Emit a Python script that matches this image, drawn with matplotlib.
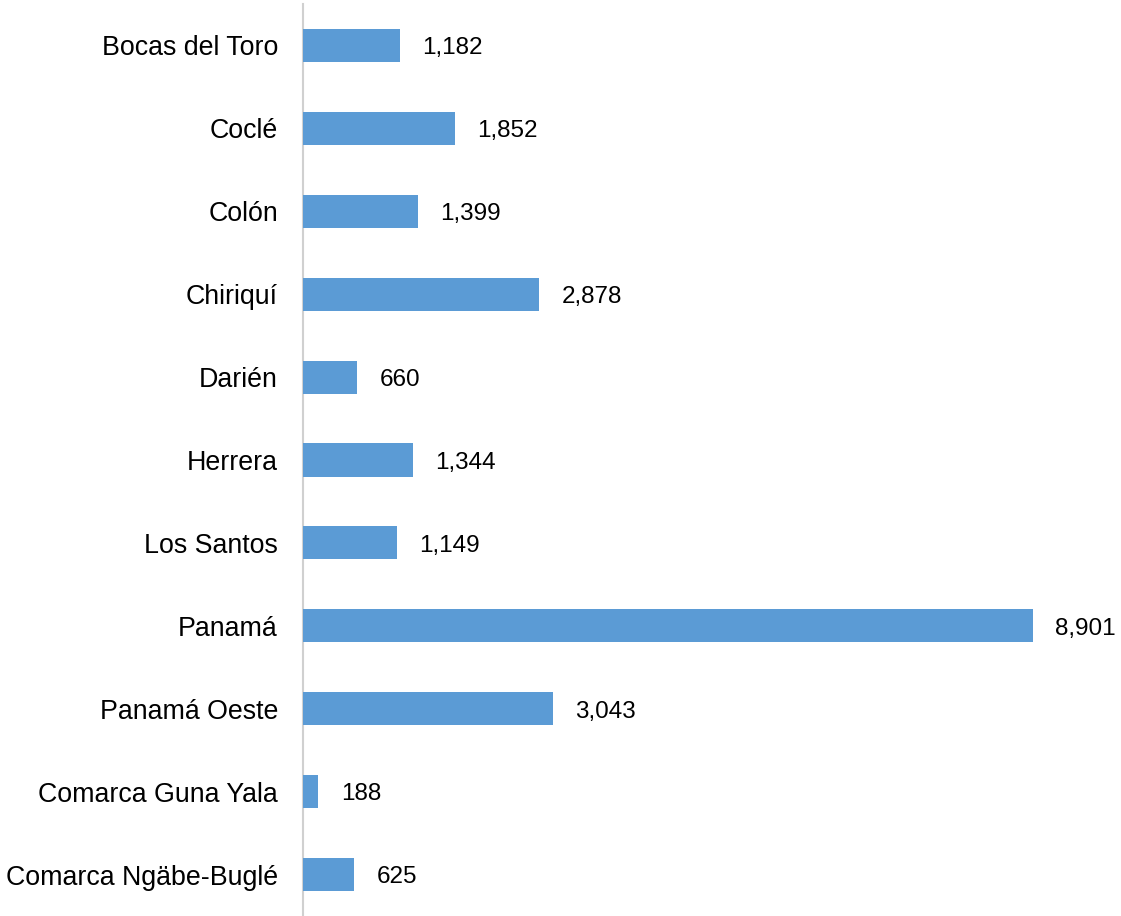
import matplotlib.pyplot as plt

plt.rcParams['font.family'] = ['Liberation Sans', 'DejaVu Sans']

provinces = ['Bocas del Toro', 'Coclé', 'Colón', 'Chiriquí', 'Darién', 'Herrera',
             'Los Santos', 'Panamá', 'Panamá Oeste', 'Comarca Guna Yala',
             'Comarca Ngäbe-Buglé']
values = [1182, 1852, 1399, 2878, 660, 1344, 1149, 8901, 3043, 188, 625]

C_BAR = '#5b9bd5'
C_AXIS = '#d0d0d0'

fig = plt.figure(figsize=(11.21, 9.16), dpi=100)
fig.patch.set_facecolor('white')
ax = fig.add_axes([303 / 1121, 0.0, 818 / 1121, 1 - 4 / 916])

ypos = list(range(len(provinces)))
ax.barh(ypos, values, height=0.4, color=C_BAR, zorder=3)

# value labels just right of each bar
for y, v in zip(ypos, values):
    ax.annotate(f'{v:,}', (v, y), xytext=(16, -2), textcoords='offset points',
                va='center', ha='left', fontsize=17.5, color='#000000')

ax.set_xlim(0, 818 / (730 / 8901))
ax.set_ylim(len(provinces) - 0.5, -0.5)
ax.set_yticks(ypos)
ax.set_yticklabels(provinces, fontsize=19.3, color='#000000')
ax.tick_params(axis='y', length=0, pad=18)
ax.set_xticks([])

for side in ['top', 'right', 'bottom']:
    ax.spines[side].set_visible(False)
ax.spines['left'].set_color(C_AXIS)
ax.spines['left'].set_linewidth(1.5)

fig.savefig('out.png', dpi=100, facecolor='white')
